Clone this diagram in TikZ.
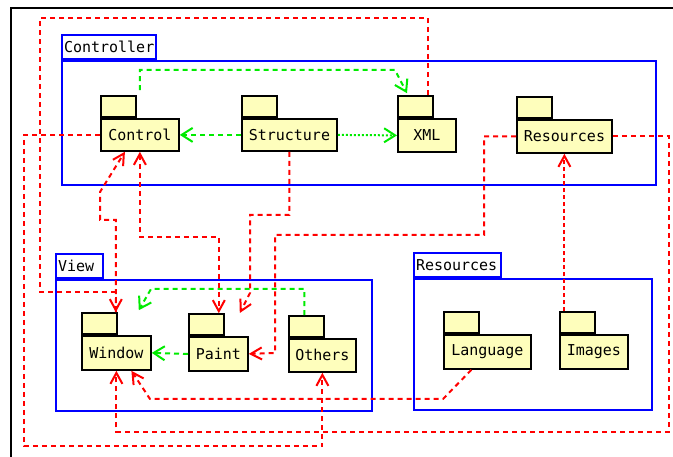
\documentclass[tikz,border=0pt]{standalone}
\usepackage{fontspec}
\setmonofont{DejaVu Sans Mono}
\usetikzlibrary{arrows.meta}

\begin{document}
\begin{tikzpicture}[x=1pt, y=-1pt,
  grpbox/.style={draw=umlblue, line width=2pt, inner sep=0pt, anchor=north west},
  grptab/.style={draw=umlblue, fill=white, line width=2pt, inner xsep=2pt, inner ysep=0pt,
    minimum height=24pt, anchor=south west, align=left,
    font=\ttfamily\fontsize{15}{18}\selectfont},
  pkg/.style={draw=black, fill=pkgfill, line width=1.8pt, inner sep=0pt, anchor=north west,
    font=\ttfamily\fontsize{15}{18}\selectfont},
  pkgtab/.style={draw=black, fill=pkgfill, line width=1.8pt, inner sep=0pt, anchor=south west,
    minimum width=35pt, minimum height=21pt},
  uses/.style={draw=umlgreen, line width=2pt, dash pattern=on 5pt off 4pt,
    -{Straight Barb[length=11pt,width=14pt]}},
  dep/.style={draw=umlred, line width=2pt, dash pattern=on 5pt off 4pt,
    -{Straight Barb[length=11pt,width=12pt]}}]

% === Colors ===
\definecolor{umlblue}{RGB}{0,0,255}
\definecolor{umlgreen}{RGB}{0,235,0}
\definecolor{umlred}{RGB}{255,0,0}
\definecolor{pkgfill}{RGB}{254,254,188}

\useasboundingbox (0,0) rectangle (673,457);

% === Outer frame ===
\draw[black, line width=2.5pt] (11,457) -- (11,8) -- (673,8);

% === Groups ===
\foreach \gn/\x/\y/\w/\h/\tw/\txt in {
  ctrl/61/60/594/124/94/Controller,
  view/55/279/316/131/47/View,
  res/413/278/238/131/87/Resources
}{
  \pgfmathsetmacro{\labw}{\tw-4}
  \node[grpbox, minimum width=\w pt, minimum height=\h pt] (\gn) at (\x,\y) {};
  \node[grptab, text width=\labw pt] (\gn-tab) at (\gn.north west) {\txt};
}

% === Packages ===
\foreach \nm/\x/\y/\w/\h/\txt in {
  control/100/118/78/32/Control,
  structure/241/118/95/32/Structure,
  xml/397/118/58/33/XML,
  resources/516/119/95/33/Resources,
  window/81/335/69/34/Window,
  paint/188/336/59/34/Paint,
  others/288/338/67/33/Others,
  language/443/334/87/34/Language,
  images/559/334/68/34/Images
}{
  \node[pkg, minimum width=\w pt, minimum height=\h pt] (\nm) at (\x,\y) {\txt};
  \node[pkgtab] (\nm-tab) at (\nm.north west) {};
}

% === Green links ===
\draw[uses] ([xshift=3pt,yshift=5pt]control-tab.north east) |- (395,70)
  -- ([xshift=10pt,yshift=2pt]xml-tab.north west);
\draw[uses] (structure.west) -- (control.east);
\draw[uses, dash pattern=on 2pt off 2pt] (structure.east) -- (xml.west);
\draw[uses] (paint.west) -- (window.east);
\draw[uses] ([xshift=-2pt]others-tab.north) |- (151,289)
  -- ([xshift=21pt,yshift=2pt]window-tab.north east);

% === Red links ===
\draw[dep] ([xshift=-6pt]xml-tab.north east) -- ++(0,-77) -| (40,292)
  -| ([xshift=-2pt]window-tab.north east);
\draw[dep] ([xshift=-2pt]window-tab.north east) |- (100,220) -- (100,192)
  -- ([xshift=-15pt]control.south);
\draw[dep] (control.west) -| (24,446) -| (others.south);
\draw[dep, {Straight Barb[length=11pt,width=12pt]}-{Straight Barb[length=11pt,width=12pt]}]
  (control.south) -- ++(0,85) -| ([xshift=-6pt]paint-tab.north east);
\draw[dep] (structure.south) |- (250,215) -- (250,293)
  -- ([xshift=-9pt,yshift=23pt]paint.north east);
\draw[dep] (resources.west) -| (484,235) -| (275,353) -- (paint.east);
\draw[dep, dash pattern=on 4pt off 3pt] (resources.south |- images-tab.north) -- (resources.south);
\draw[dep] (resources.east) -| (669,432) -| (window.south);
\draw[dep] ([xshift=-16pt]language.south) -- (443,399) -- (150,399)
  -- ([xshift=15pt]window.south);

\end{tikzpicture}
\end{document}
